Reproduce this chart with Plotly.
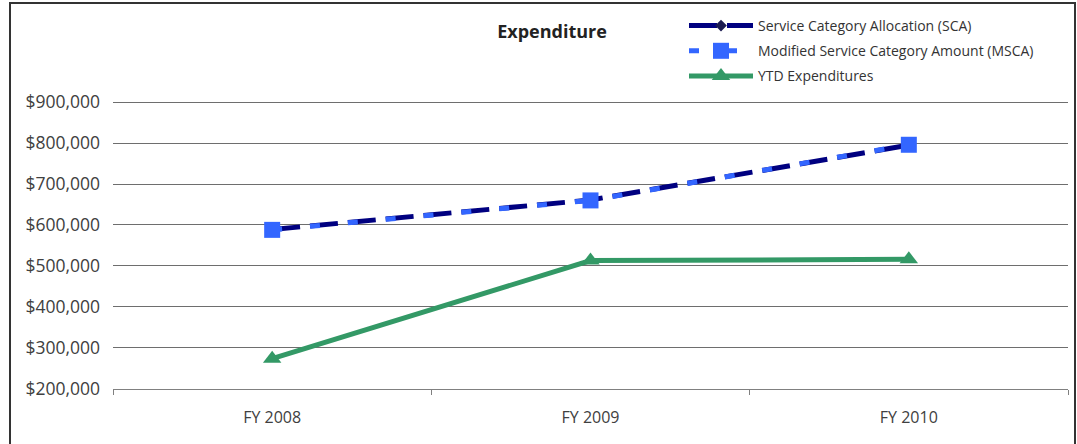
import plotly.graph_objects as go

categories = ["FY 2008", "FY 2009", "FY 2010"]
sca = [589000, 661000, 795000]
msca = [588000, 660000, 796000]
ytd = [273000, 513000, 516000]
y_ticks = [200000, 300000, 400000, 500000, 600000, 700000, 800000, 900000]

FONT = "Open Sans"
fig = go.Figure()
fig.add_trace(go.Scatter(
    x=categories, y=sca, name="Service Category Allocation (SCA)",
    mode="lines+markers", legendgroup="a",
    line=dict(color="#000080", width=5, dash="28px,10px"),
    marker=dict(symbol="diamond", size=9, color="#1a1a50"),
))
fig.add_trace(go.Scatter(
    x=categories, y=msca, name="Modified Service Category Amount (MSCA)",
    mode="lines+markers", legendgroup="b",
    line=dict(color="#3366FF", width=5, dash="10px,28px"),
    marker=dict(symbol="square", size=16, color="#3366FF"),
))
fig.add_trace(go.Scatter(
    x=categories, y=ytd, name="YTD Expenditures",
    mode="lines+markers", legendgroup="c",
    line=dict(color="#339966", width=5),
    marker=dict(symbol="triangle-up", size=16, color="#339966"),
))

L, R, T, B = 113, 9, 101, 55
W, H = 1077, 444
pw, ph = W - L - R, H - T - B

fig.update_layout(
    width=W, height=H,
    margin=dict(l=L, r=R, t=T, b=B, autoexpand=False),
    plot_bgcolor="white", paper_bgcolor="white",
    font=dict(family=FONT, size=15, color="#404040"),
    title=dict(text="<b>Expenditure</b>", x=552 / W, xanchor="center",
               y=1 - 32 / H, yanchor="middle",
               font=dict(family=FONT, size=18, color="#222222")),
    showlegend=True,
    legend=dict(x=(684 - L) / pw, xanchor="left", y=1 + (T - 10) / ph, yanchor="top",
                bgcolor="rgba(0,0,0,0)", font=dict(size=14, color="#333333"),
                itemwidth=64, tracegroupgap=4, traceorder="grouped"),
    xaxis=dict(
        type="category", range=[-0.5, 2.5], showgrid=False,
        showline=True, linecolor="#808080", linewidth=1,
        ticks="outside", tickson="boundaries", ticklen=5, tickcolor="#808080",
        ticklabelstandoff=14,
        tickfont=dict(size=16, color="#404040"),
    ),
    yaxis=dict(
        range=[199000, 903000], tickvals=y_ticks,
        tickformat="$,.0f", showgrid=True, gridcolor="#6e6e6e", gridwidth=1,
        zeroline=False, showline=False, ticks="", ticklabelstandoff=12,
        tickfont=dict(size=17.5, color="#404040"),
    ),
    shapes=[dict(type="rect", xref="paper", yref="paper",
                 x0=(10 - L) / pw, x1=(1075 - L) / pw,
                 y0=-(B + 20) / ph, y1=1 + (T - 3) / ph,
                 line=dict(color="#333333", width=2), fillcolor="rgba(0,0,0,0)",
                 layer="below")],
)

fig.write_html("out.html", config={"displayModeBar": False},
               post_script="document.body.style.margin='0';")
